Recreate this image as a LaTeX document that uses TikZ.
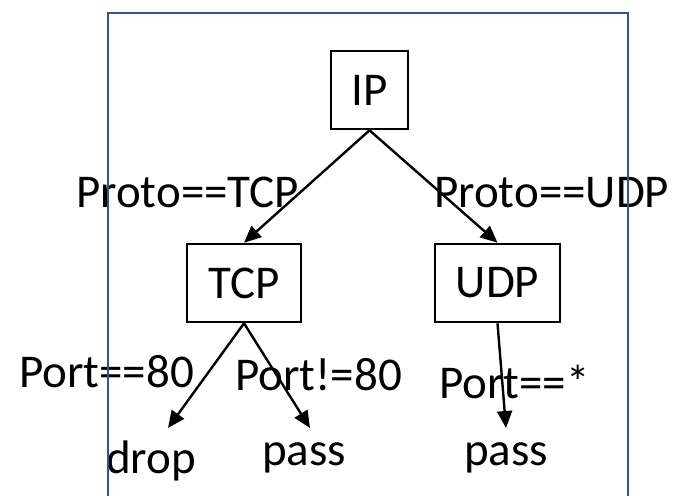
\documentclass[tikz,border=0pt]{standalone}
\usepackage{fontspec}
\setmainfont{Carlito}
\usetikzlibrary{arrows.meta}
\definecolor{frameblue}{RGB}{47,85,151}
\tikzset{
  lbl/.style={inner sep=0pt, anchor=base west, font=\fontsize{47}{50}\selectfont},
  box/.style={draw=black, line width=2.6pt, minimum height=78pt, inner sep=0pt,
              font=\fontsize{47}{50}\selectfont},
  conn/.style={draw=black, line width=2.4pt, -{Triangle[length=17pt,width=15pt]}},
  frame/.style={draw=frameblue, line width=2.6pt},
}
\begin{document}
\begin{tikzpicture}[x=1pt, y=-1pt]
  \useasboundingbox (0,0) rectangle (674,495);

  % edge labels and leaves
  \node[lbl] (lTCP) at (76,207) {Proto==TCP};
  \node[lbl] (lUDP) at (434,207) {Proto==UDP};
  \node[lbl] (lP80) at (19,387) {Port==80};
  \node[lbl] (lN80) at (235,390) {Port!=80};
  \node[lbl] (lAny) at (439,398) {Port==*};
  \node[lbl] (drop) at (106,473) {drop};
  \node[lbl] (passA) at (262,465) {pass};
  \node[lbl] (passB) at (464,465) {pass};

  % arrow tips above the leaves
  \coordinate (tDrop) at (168,428);
  \coordinate (tPassA) at (310,428);
  \coordinate (tPassB) at (506,428);

  % tree nodes
  \node[box, minimum width=77pt] (ip) at (369.5,90) {IP};
  \node[box, minimum width=114pt] (tcp) at (244,283) {TCP};
  \node[box, minimum width=125pt] (udp) at (497.5,283) {UDP};

  % connectors
  \draw[conn] (ip.south) -- (tcp.north);
  \draw[conn] (ip.south) -- (udp.north);
  \draw[conn] (tcp.south) -- (tDrop);
  \draw[conn] (tcp.south) -- (tPassA);
  \draw[conn] (udp.south) -- (tPassB);

  % enclosing frame (open at the bottom edge)
  \draw[frame] (108,510) -- (108,13) -- (628,13) -- (628,510);
\end{tikzpicture}
\end{document}
